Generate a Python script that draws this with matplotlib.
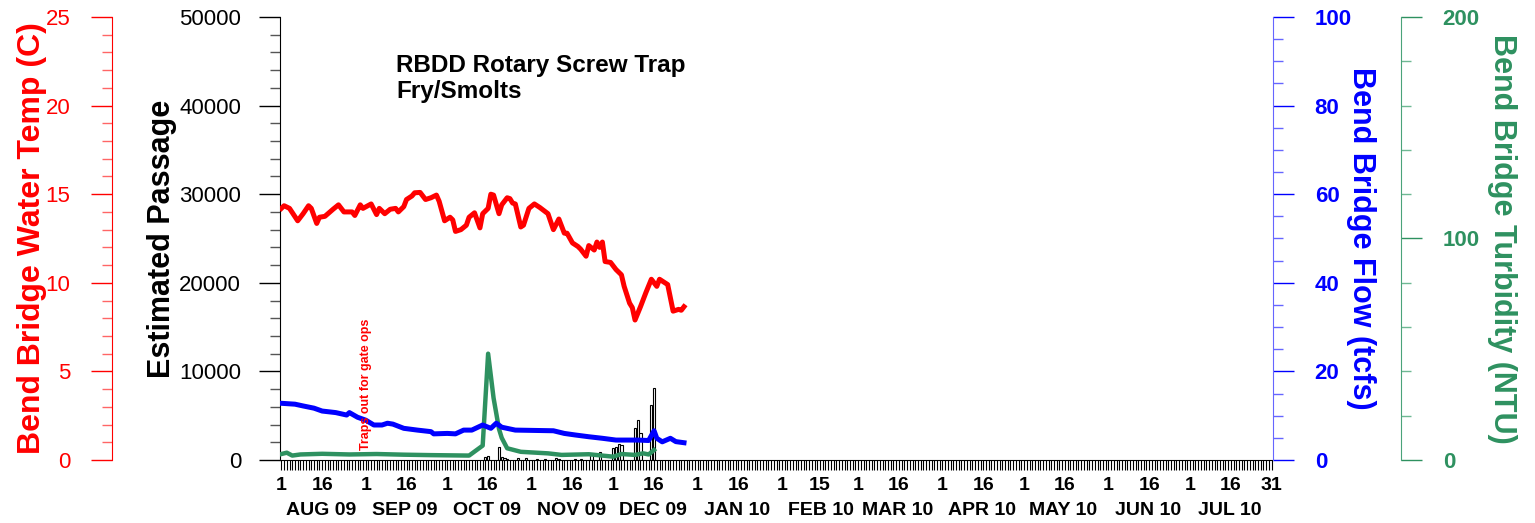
import matplotlib
matplotlib.use('Agg')
import matplotlib.pyplot as plt
import matplotlib.dates as mdates
import matplotlib.transforms as mtrans
from matplotlib.ticker import MultipleLocator
import numpy as np
import pandas as pd

plt.rcParams['font.family'] = ['Liberation Sans', 'DejaVu Sans']

start = pd.Timestamp('2009-08-01')
end = pd.Timestamp('2010-07-31')

# days since Aug 1 2009
temp_days = [0, 1, 3, 6, 8, 10, 11, 13, 14, 16, 19, 21, 23, 26, 27, 29, 30,
             33, 35, 36, 38, 40, 42, 43, 45, 46, 48, 49, 51, 53, 55, 57, 58, 60,
             62, 63, 64, 66, 68, 69, 71, 73, 74, 76, 77, 78, 80, 81, 83, 84, 85,
             86, 88, 89, 91, 93, 95, 98, 100, 102, 104, 105, 107, 109, 110, 112,
             113, 115, 116, 117, 118, 119, 121, 123, 125, 126, 128, 129, 130,
             132, 134, 136, 138, 139, 142, 144, 146, 147, 148]
temp_vals = [14.2, 14.35, 14.2, 13.5, 13.9, 14.35, 14.2, 13.35, 13.7, 13.75,
             14.15, 14.4, 14.0, 14.0, 13.8, 14.4, 14.2, 14.45, 13.85, 14.2, 13.9,
             14.15, 14.2, 14.0, 14.3, 14.7, 14.9, 15.08, 15.1, 14.7, 14.8, 14.95,
             14.6, 13.5, 13.7, 13.55, 12.9, 13.0, 13.25, 13.7, 13.95, 13.1, 13.9,
             14.2, 15.0, 14.95, 13.9, 14.4, 14.8, 14.75, 14.5, 14.45, 13.15,
             13.25, 14.2, 14.45, 14.25, 13.9, 13.0, 13.6, 12.8, 12.8, 12.25,
             12.05, 11.9, 11.5, 12.1, 11.85, 12.3, 12.0, 12.3, 11.2, 11.15,
             10.75, 10.45, 9.8, 8.85, 8.6, 7.9, 8.65, 9.45, 10.2, 9.8, 10.2, 9.9,
             8.4, 8.5, 8.45, 8.65]

flow_days = [0, 5, 8, 12, 15, 20, 24, 25, 28, 31, 34, 37, 39, 41, 45, 50, 55,
             56, 61, 64, 67, 70, 74, 77, 79, 81, 86, 100, 104, 108, 113, 118,
             123, 131, 135, 137, 138, 140, 143, 145, 148]
flow_vals = [12.8, 12.6, 12.2, 11.7, 11.05, 10.7, 10.15, 10.7, 9.65, 9.0, 7.9,
             7.9, 8.3, 8.1, 7.15, 6.75, 6.4, 5.9, 6.0, 5.9, 6.75, 6.75, 7.9, 7.15,
             8.3, 7.4, 6.75, 6.6, 6.0, 5.65, 5.25, 4.9, 4.5, 4.5, 4.4, 6.6, 4.9,
             4.1, 4.9, 4.15, 3.9]

turb_days = [0, 2, 4, 7, 15, 25, 35, 45, 55, 69, 74, 76, 78, 80, 81, 83, 88,
             98, 103, 113, 122, 125, 130, 133, 135, 137]
turb_vals = [2.7, 3.3, 2.0, 2.5, 2.8, 2.5, 2.7, 2.4, 2.2, 2.0, 6.5, 48, 28, 14,
             10, 5.3, 3.7, 3.0, 2.3, 2.6, 1.5, 2.7, 2.3, 3.0, 2.5, 4.5]

pass_days = [75, 76, 80, 81, 82, 83, 87, 90, 94, 97, 101, 102, 108, 110, 114,
             117, 122, 123, 124, 125, 130, 131, 132, 136, 137]
pass_vals = [370, 420, 1500, 350, 200, 150, 200, 170, 100, 80, 200, 150, 150,
             120, 680, 870, 1320, 1500, 1770, 1660, 3650, 4480, 3080, 6200, 8090]

month_names = ['AUG 09', 'SEP 09', 'OCT 09', 'NOV 09', 'DEC 09', 'JAN 10',
               'FEB 10', 'MAR 10', 'APR 10', 'MAY 10', 'JUN 10', 'JUL 10']


def to_dates(days):
    return start + pd.to_timedelta(days, unit='D')


red = '#ff0000'
blue = '#0000ff'
green = '#2e9160'

fig = plt.figure(figsize=(15.35, 5.23), dpi=100)
ax = fig.add_axes([280 / 1535, 1 - 460 / 523, 993 / 1535, 443 / 523])

ax_n = ax.twinx()   # turbidity
ax_f = ax.twinx()   # flow
ax_t = ax.twinx()   # temperature

# bars: estimated passage
ax.bar(to_dates(pass_days), pass_vals, width=0.8, facecolor='white',
       edgecolor='black', linewidth=0.8, zorder=2)
ax.set_ylim(0, 50000)
ax.set_xlim(start - pd.Timedelta(hours=12), end + pd.Timedelta(hours=12))
ax.spines['top'].set_visible(False)
ax.spines['right'].set_visible(False)
ax.set_yticks(np.arange(0, 50001, 10000))
ax.yaxis.set_minor_locator(MultipleLocator(2000))
ax.tick_params(axis='y', which='major', direction='out', length=15, width=1,
               labelsize=16, pad=13, colors='black')
ax.tick_params(axis='y', which='minor', direction='out', length=7.5, width=1,
               color='#555555')
ax.set_ylabel('Estimated Passage', fontsize=22, fontweight='bold')
ax.yaxis.set_label_coords(-0.1188, 0.5)
ax.yaxis.label.set_va('center')

# x axis: day ticks
major = []
labels = []
for m in pd.date_range(start, end, freq='MS'):
    major.append(m)
    labels.append('1')
    mid = m + pd.Timedelta(days=14 if m.month == 2 else 15)
    major.append(mid)
    labels.append(str(mid.day))
major.append(end)
labels.append('31')
ax.set_xticks(major, labels=labels, fontweight='bold')
ax.xaxis.set_minor_locator(mdates.DayLocator())
ax.tick_params(axis='x', which='both', direction='out', length=7.5, width=0.8)
ax.tick_params(axis='x', which='major', labelsize=14, pad=4.5)

trans = mtrans.blended_transform_factory(ax.transData, ax.transAxes)
for m, name in zip(pd.date_range(start, end, freq='MS'), month_names):
    ax.text(m + pd.Timedelta(days=14.5), -0.115, name, transform=trans,
            ha='center', va='center', fontsize=14, fontweight='bold')

# turbidity
ax_n.plot(to_dates(turb_days), turb_vals, color=green, lw=3.2,
          solid_joinstyle='round')
ax_n.set_ylim(0, 200)
for s in ['top', 'bottom', 'left']:
    ax_n.spines[s].set_visible(False)
ax_n.spines['right'].set_position(('axes', 1.1289))
ax_n.spines['right'].set_color('#4aa37a')
ax_n.set_yticks([0, 100, 200], labels=['0', '100', '200'], fontweight='bold')
ax_n.yaxis.set_minor_locator(MultipleLocator(20))
ax_n.tick_params(axis='y', which='major', direction='out', length=15, width=1,
                 labelsize=16, pad=15, colors=green)
ax_n.tick_params(axis='y', which='minor', direction='out', length=7.5,
                 width=1, color='#6fb894')
ax_n.set_ylabel('Bend Bridge Turbidity (NTU)', fontsize=22, fontweight='bold',
                color=green, rotation=270)
ax_n.yaxis.set_label_coords(1.2306, 0.5)
ax_n.yaxis.label.set_va('center')

# flow
ax_f.plot(to_dates(flow_days), flow_vals, color=blue, lw=3.6,
          solid_joinstyle='round')
ax_f.set_ylim(0, 100)
for s in ['top', 'bottom', 'left']:
    ax_f.spines[s].set_visible(False)
ax_f.spines['right'].set_color('#6666ff')
ax_f.set_yticks(np.arange(0, 101, 20),
                labels=[str(v) for v in range(0, 101, 20)], fontweight='bold')
ax_f.yaxis.set_minor_locator(MultipleLocator(5))
ax_f.tick_params(axis='y', which='major', direction='out', length=15, width=1,
                 labelsize=16, pad=15, colors=blue)
ax_f.tick_params(axis='y', which='minor', direction='out', length=7.5,
                 width=1, color='#6666ff')
ax_f.set_ylabel('Bend Bridge Flow (tcfs)', fontsize=22, fontweight='bold',
                color=blue, rotation=270)
ax_f.yaxis.set_label_coords(1.0886, 0.5)
ax_f.yaxis.label.set_va('center')

# temperature
ax_t.plot(to_dates(temp_days), temp_vals, color=red, lw=3.6,
          solid_joinstyle='round')
ax_t.set_ylim(0, 25)
for s in ['top', 'bottom', 'right']:
    ax_t.spines[s].set_visible(False)
ax_t.spines['left'].set_visible(True)
ax_t.spines['left'].set_position(('axes', -0.1692))
ax_t.spines['left'].set_color(red)
ax_t.yaxis.set_ticks_position('left')
ax_t.yaxis.set_label_position('left')
ax_t.set_yticks(np.arange(0, 26, 5))
ax_t.yaxis.set_minor_locator(MultipleLocator(1))
ax_t.tick_params(axis='y', which='major', direction='out', length=15, width=1,
                 labelsize=16, pad=15, colors=red)
ax_t.tick_params(axis='y', which='minor', direction='out', length=7.5,
                 width=1, color='#ff6666')
ax_t.set_ylabel('Bend Bridge Water Temp (C)', fontsize=23, fontweight='bold',
                color=red)
ax_t.yaxis.set_label_coords(-0.2500, 0.5)
ax_t.yaxis.label.set_va('center')

ax_t.text(pd.Timestamp('2009-09-01'), 1130, 'Traps out for gate ops',
          transform=ax.transData, rotation=90, ha='center', va='bottom',
          color=red, fontsize=9, fontweight='bold')

ax_t.text(0.1168, 0.9165, 'RBDD Rotary Screw Trap\nFry/Smolts',
          transform=ax.transAxes, ha='left', va='top', fontsize=17.5,
          fontweight='bold', linespacing=1.15)

fig.savefig('out.png', dpi=100)
